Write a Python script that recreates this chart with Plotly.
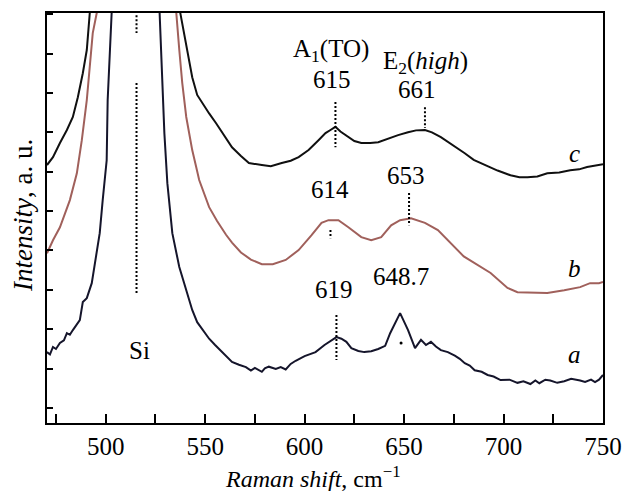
import plotly.graph_objects as go

# ---------------- data (Raman shift in cm^-1, intensity in a.u.) ----------------
a_x = [470.5, 472, 473.5, 475, 477, 479, 480.5, 482, 483.5, 485, 487, 488.5, 490.5, 493,
       495.5, 497, 498.5, 500.5, 501, 502, 503, 508, 515, 520, 524, 527, 528, 529.5, 531,
       533.5, 537, 540.5, 543.5, 546, 549, 552, 555, 557, 560, 563.5, 567, 570.5, 573, 575,
       578.5, 580, 582, 585.5, 588, 590.5, 593, 595.5, 600, 605.5, 610, 613.5, 616, 618.5,
       621, 623.5, 627, 630, 633.5, 637, 640.5, 643, 648, 652, 655.5, 658.5, 661, 663.5,
       666, 668.5, 672, 675.5, 678, 680.5, 683, 685.5, 689, 692, 695, 698.5, 703, 707, 710,
       713.5, 716, 718, 721, 723.5, 727, 730.5, 734, 738.5, 741, 744, 746, 748, 750]
a_y = [1.42, 1.36, 1.55, 1.50, 1.65, 1.72, 1.90, 1.86, 1.98, 2.10, 2.23, 2.69, 2.79, 3.17,
       3.93, 4.44, 5.28, 6.29, 7.82, 9.09, 10.03, 13, 18, 19, 14, 10.03, 8.65, 6.98, 5.71,
       4.44, 3.58, 2.99, 2.49, 2.18, 1.98, 1.76, 1.60, 1.50, 1.35, 1.17, 1.10, 1.04, 0.95, 1.02,
       0.92, 1.01, 1.05, 0.99, 1.04, 0.98, 1.12, 1.20, 1.32, 1.42, 1.60, 1.73, 1.80, 1.76,
       1.68, 1.52, 1.45, 1.42, 1.44, 1.50, 1.58, 1.90, 2.41, 1.98, 1.52, 1.73, 1.60, 1.68,
       1.56, 1.47, 1.42, 1.33, 1.25, 1.14, 1.08, 0.96, 0.92, 0.84, 0.80, 0.71, 0.72, 0.64, 0.68,
       0.61, 0.70, 0.63, 0.72, 0.70, 0.64, 0.68, 0.74, 0.70, 0.66, 0.72, 0.66, 0.72, 0.84]

b_x = [470.5, 473.5, 477, 480, 482, 485.5, 488, 490.5, 492, 493.5, 495.5, 505, 515, 525,
       535.5, 537, 538.5, 540.5, 543.5, 545.5, 547, 552, 556, 560.5, 563.5, 568, 573, 578.5,
       584, 590.5, 597, 603.5, 608.5, 612, 617, 622, 628.5, 633.5, 638.5, 643.5, 648, 653.5,
       660.5, 667, 672, 676, 680, 693.5, 702, 707, 715, 722, 730.5, 738.5, 743.5, 748, 750]
b_y = [3.93, 4.26, 4.59, 5.00, 5.28, 5.96, 6.80, 7.82, 8.65, 9.52, 10.03, 15, 20, 15,
       10.03, 9.09, 8.25, 7.39, 6.55, 6.12, 5.79, 5.10, 4.75, 4.40, 4.20, 3.95, 3.77, 3.65,
       3.65, 3.76, 4.01, 4.39, 4.70, 4.77, 4.77, 4.59, 4.34, 4.26, 4.34, 4.64, 4.77, 4.82,
       4.70, 4.52, 4.26, 4.05, 3.85, 3.43, 3.05, 2.94, 2.93, 2.92, 2.99, 3.07, 3.17, 3.17, 3.20]

c_x = [470.5, 473.5, 477, 480.5, 483.5, 486, 488.5, 490.5, 492, 500, 515, 530, 537.5,
       540.5, 543.5, 546, 548.5, 552, 555.5, 560, 563.5, 568, 572, 578.5, 583, 588.5, 593,
       597, 602, 607, 610.5, 613, 615.5, 618, 622, 625, 628.5, 633, 637, 642, 647, 652, 656,
       660.5, 664, 668.5, 674, 680.5, 685, 690.5, 697, 703.5, 708, 712, 717, 722, 728, 733.5,
       738, 742, 745, 748, 750]
c_y = [6.17, 6.37, 6.73, 7.06, 7.39, 7.89, 8.50, 9.09, 10.03, 16, 22, 16, 10.03,
       9.20, 8.40, 7.95, 7.75, 7.48, 7.23, 6.90, 6.62, 6.40, 6.22, 6.17, 6.14, 6.22, 6.28,
       6.37, 6.55, 6.80, 6.98, 7.06, 7.14, 7.02, 6.88, 6.78, 6.73, 6.73, 6.75, 6.85, 6.93, 7.00, 7.05,
       7.06, 7.00, 6.88, 6.70, 6.47, 6.30, 6.17, 6.03, 5.91, 5.86, 5.86, 5.88, 5.96, 5.98, 6.04,
       6.06, 6.12, 6.14, 6.17, 6.19]

# peak marker positions (dotted guide lines): x position, y start, y end
si_pos = 515.5
si_segments = [(9.97, 9.52), (8.25, 2.87)]
mark_x = [615.5, 660.5, 652.5, 613.0, 616.0]
mark_y0 = [7.77, 7.64, 5.46, 4.52, 2.36]
mark_y1 = [6.62, 7.11, 4.64, 4.31, 1.22]
dot_648_x = [648.5]
dot_648_y = [1.65]

x_ticks = [500, 550, 600, 650, 700, 750]
x_minor_ticks = [475, 525, 575, 625, 675, 725]
y_ticks = [0, 1, 2, 3, 4, 5, 6, 7, 8, 9, 10]

FONT = "Liberation Serif, Times New Roman, serif"
FS = 25

fig = go.Figure()

fig.add_trace(go.Scatter(x=c_x, y=c_y, mode="lines", line=dict(color="#101010", width=2)))
fig.add_trace(go.Scatter(x=b_x, y=b_y, mode="lines", line=dict(color="#a0605b", width=2)))
fig.add_trace(go.Scatter(x=a_x, y=a_y, mode="lines", line=dict(color="#15152b", width=2)))

# Si dotted line (two segments)
sx, sy = [], []
for y0, y1 in si_segments:
    sx += [si_pos, si_pos, None]
    sy += [y0, y1, None]
fig.add_trace(go.Scatter(x=sx, y=sy, mode="lines",
                         line=dict(color="black", width=2, dash="2px,2px")))

mx, my = [], []
for xx, y0, y1 in zip(mark_x, mark_y0, mark_y1):
    mx += [xx, xx, None]
    my += [y0, y1, None]
fig.add_trace(go.Scatter(x=mx, y=my, mode="lines",
                         line=dict(color="black", width=2, dash="2px,2px")))
fig.add_trace(go.Scatter(x=dot_648_x, y=dot_648_y, mode="markers",
                         marker=dict(color="black", size=3)))

labels = [
    ("A<sub>1</sub>(TO)", 613.5, 9.09),
    ("615", 613.75, 8.35),
    ("E<sub>2</sub>(<i>high</i>)", 661.0, 8.78),
    ("661", 656.25, 8.10),
    ("614", 613.0, 5.56),
    ("653", 650.75, 5.91),
    ("619", 615.0, 3.02),
    ("648.7", 648.25, 3.35),
    ("Si", 517.0, 1.47),
    ("<i>c</i>", 735.5, 6.47),
    ("<i>b</i>", 735.5, 3.55),
    ("<i>a</i>", 735.5, 1.35),
]
for text, x, y in labels:
    fig.add_annotation(x=x, y=y, xref="x", yref="y", text=text, showarrow=False,
                       xanchor="center", yanchor="middle",
                       font=dict(family=FONT, size=FS, color="black"))

# axis titles
fig.add_annotation(x=0.479, y=0, xref="paper", yref="paper", yshift=-54,
                   text="<i>Raman shift</i>, cm<sup>−1</sup>", showarrow=False,
                   xanchor="center", yanchor="middle",
                   font=dict(family=FONT, size=24, color="black"))
fig.add_annotation(x=0, y=0.505, xref="paper", yref="paper", xshift=-24,
                   text="<i>Intensity</i>, a. u.", showarrow=False, textangle=-90,
                   xanchor="center", yanchor="middle",
                   font=dict(family=FONT, size=27, color="black"))

fig.update_layout(
    width=624, height=491,
    margin=dict(l=47, r=21, t=13, b=68, autoexpand=False),
    paper_bgcolor="white", plot_bgcolor="white",
    showlegend=False,
    font=dict(family=FONT, size=FS, color="black"),
)
fig.update_xaxes(range=[470.5, 750], showgrid=False, zeroline=False, automargin=False,
                 showline=True, linecolor="black", linewidth=2, mirror=True,
                 ticks="inside", ticklen=9, tickwidth=1.5, tickcolor="black",
                 tickvals=x_ticks, ticklabeloverflow="allow",
                 minor=dict(tickvals=x_minor_ticks, ticks="inside", ticklen=9,
                            tickwidth=1.5, tickcolor="black", showgrid=False),
                 tickfont=dict(family=FONT, size=FS, color="black"))
fig.update_yaxes(range=[-0.38, 10.03], showgrid=False, zeroline=False, automargin=False,
                 showline=True, linecolor="black", linewidth=2, mirror=True,
                 ticks="inside", ticklen=6, tickwidth=1.5, tickcolor="black",
                 tickvals=y_ticks, showticklabels=False)

fig.write_html(
    "out.html",
    config={"displayModeBar": False},
    post_script=(
        "document.body.style.margin='0px';"
        "document.body.style.overflow='hidden';"
    ),
)
